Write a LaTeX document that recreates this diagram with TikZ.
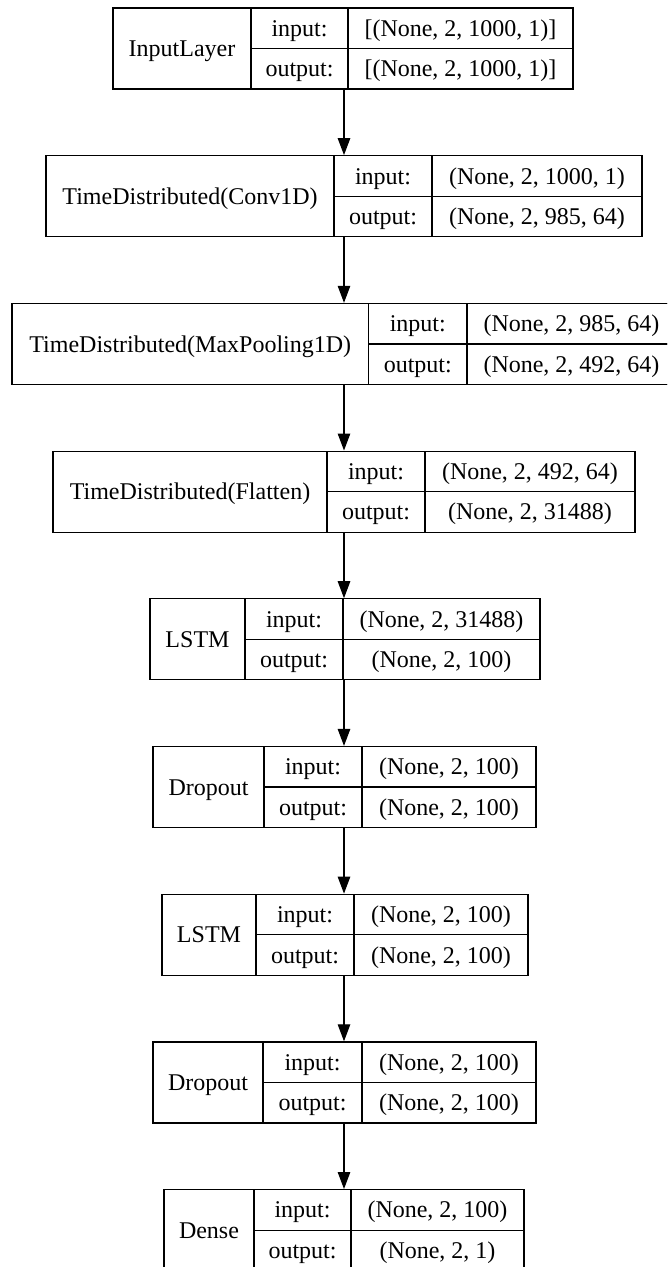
\documentclass[tikz,border=0pt]{standalone}
\usepackage{fontspec}
\setmainfont{Liberation Serif}
\usetikzlibrary{arrows.meta}

\tikzset{
  boxline/.style={draw=black, line width=1.2pt},
  cell/.style={boxline, inner sep=0pt, anchor=center,
    text height=21.4pt, text depth=5.2pt,
    font=\fontsize{24}{28}\selectfont},
  link/.style={line width=1.2pt, draw=black,
    -{Triangle[length=17pt,width=12.5pt]}}
}

% One layer record: id, top, left, first split, second split, right,
% layer name, input shape, output shape
\newcommand\layerbox[9]{%
  \pgfmathsetmacro\lbNx{(#3+#4)/2}%
  \pgfmathsetmacro\lbNw{#4-#3}%
  \pgfmathsetmacro\lbKx{(#4+#5)/2}%
  \pgfmathsetmacro\lbKw{#5-#4}%
  \pgfmathsetmacro\lbVx{(#5+#6)/2}%
  \pgfmathsetmacro\lbVw{#6-#5}%
  \pgfmathsetmacro\lbOx{(#3+#6)/2}%
  \pgfmathsetmacro\lbOw{#6-#3}%
  \pgfmathsetmacro\lbMid{#2+40.5}%
  \pgfmathsetmacro\lbTop{#2+20.25}%
  \pgfmathsetmacro\lbBot{#2+60.75}%
  \node[boxline, inner sep=0pt, minimum width=\lbOw pt, minimum height=81pt]
    (#1) at (\lbOx,\lbMid) {};
  \node[cell, minimum width=\lbNw pt, minimum height=81pt]
    (#1-name) at (\lbNx,\lbMid) {#7};
  \node[cell, minimum width=\lbKw pt, minimum height=40.5pt]
    (#1-inkey) at (\lbKx,\lbTop) {input:};
  \node[cell, minimum width=\lbKw pt, minimum height=40.5pt]
    (#1-outkey) at (\lbKx,\lbBot) {output:};
  \node[cell, minimum width=\lbVw pt, minimum height=40.5pt]
    (#1-inval) at (\lbVx,\lbTop) {#8};
  \node[cell, minimum width=\lbVw pt, minimum height=40.5pt]
    (#1-outval) at (\lbVx,\lbBot) {#9};
}

\begin{document}
\begin{tikzpicture}[x=1pt, y=-1pt]
  \useasboundingbox (0,0) rectangle (667,1267);
  \clip (0,0) rectangle (667,1267);
  \fill[white] (0,0) rectangle (667,1267);

  \layerbox{b1}{8}{113}{251}{348}{573}{InputLayer}{[(None, 2, 1000, 1)]}{[(None, 2, 1000, 1)]}
  \layerbox{b2}{155.7}{46}{334}{432}{642}{TimeDistributed(Conv1D)}{(None, 2, 1000, 1)}{(None, 2, 985, 64)}
  \layerbox{b3}{303.4}{12}{368.5}{467}{676}{TimeDistributed(MaxPooling1D)}{(None, 2, 985, 64)}{(None, 2, 492, 64)}
  \layerbox{b4}{451.1}{53}{327}{425}{635}{TimeDistributed(Flatten)}{(None, 2, 492, 64)}{(None, 2, 31488)}
  \layerbox{b5}{598.8}{150}{245}{343}{540}{LSTM}{(None, 2, 31488)}{(None, 2, 100)}
  \layerbox{b6}{746.5}{153}{264}{362}{536}{Dropout}{(None, 2, 100)}{(None, 2, 100)}
  \layerbox{b7}{894.2}{162}{256}{354}{528}{LSTM}{(None, 2, 100)}{(None, 2, 100)}
  \layerbox{b8}{1041.9}{153}{263}{362}{536}{Dropout}{(None, 2, 100)}{(None, 2, 100)}
  \layerbox{b9}{1189.6}{164}{254}{351}{524}{Dense}{(None, 2, 100)}{(None, 2, 1)}

  % data flow between consecutive layers
  \coordinate (ax) at (344,0);
  \foreach \a/\b in {b1/b2,b2/b3,b3/b4,b4/b5,b5/b6,b6/b7,b7/b8,b8/b9}
    \draw[link] (\a.south -| ax) -- (\b.north -| ax);
\end{tikzpicture}
\end{document}
